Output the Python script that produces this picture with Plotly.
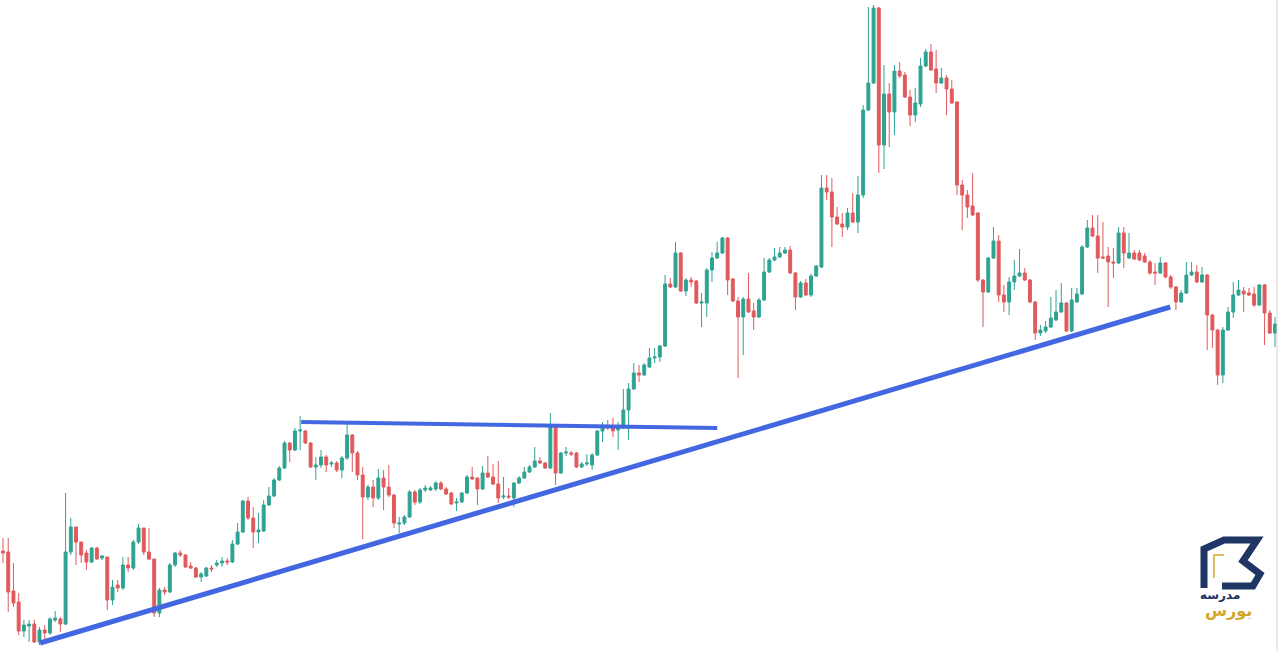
import plotly.graph_objects as go

# candle values (price units, bottom of chart = 0)
open_ = [100, 99, 60, 49, 20, 25, 27, 9, 21, 18, 31, 32, 27, 99, 124, 109, 98, 89, 103, 93,
         94, 51, 66, 63, 86, 83, 109, 123, 99, 92, 38, 61, 59, 86, 98, 96, 85, 83, 74, 75,
         83, 86, 88, 90, 89, 107, 119, 150, 133, 119, 120, 146, 155, 171, 183, 208, 201, 220, 220, 208,
         184, 186, 194, 187, 188, 181, 193, 216, 198, 176, 154, 164, 153, 173, 164, 156, 127, 128, 134, 159,
         149, 161, 161, 162, 168, 162, 158, 148, 149, 158, 174, 173, 162, 178, 174, 167, 154, 155, 153, 168,
         173, 179, 184, 190, 188, 183, 225, 178, 198, 198, 198, 184, 187, 186, 196, 220, 225, 224, 221, 223,
         241, 262, 278, 276, 284, 293, 294, 305, 367, 364, 398, 360, 371, 370, 348, 348, 381, 393, 398, 413,
         372, 350, 334, 352, 340, 334, 351, 379, 391, 394, 398, 401, 378, 354, 368, 356, 375, 384, 463, 459,
         434, 427, 424, 438, 429, 456, 541, 568, 643, 506, 557, 539, 580, 576, 554, 536, 547, 585, 599, 582,
         568, 573, 562, 549, 466, 456, 445, 438, 371, 359, 393, 410, 356, 349, 369, 375, 378, 371, 349, 318,
         320, 324, 331, 339, 348, 320, 349, 357, 404, 423, 415, 394, 395, 389, 388, 418, 393, 398, 398, 395,
         389, 379, 378, 388, 374, 364, 349, 358, 376, 379, 369, 376, 336, 321, 276, 321, 339, 356, 360, 358,
         357, 346, 366, 338, 318]
high = [113, 113, 88, 58, 31, 31, 31, 24, 26, 34, 40, 34, 158, 133, 124, 109, 101, 104, 104, 96,
        94, 71, 71, 94, 94, 111, 127, 123, 123, 92, 63, 64, 88, 99, 101, 97, 89, 84, 79, 84,
        86, 91, 94, 93, 111, 128, 151, 154, 144, 138, 151, 164, 173, 185, 210, 209, 223, 235, 221, 209,
        194, 201, 196, 190, 190, 195, 228, 217, 200, 184, 166, 171, 182, 181, 186, 157, 134, 136, 161, 161,
        163, 166, 165, 170, 170, 164, 159, 153, 159, 176, 184, 174, 185, 195, 187, 190, 174, 163, 169, 175,
        184, 186, 204, 194, 189, 238, 226, 199, 204, 200, 199, 189, 197, 198, 221, 229, 231, 233, 229, 262,
        268, 288, 286, 288, 303, 303, 306, 376, 373, 409, 399, 373, 374, 371, 358, 383, 399, 409, 414, 414,
        373, 354, 354, 378, 348, 353, 393, 393, 403, 404, 404, 405, 379, 370, 372, 377, 386, 476, 476, 473,
        444, 438, 443, 458, 475, 546, 644, 646, 644, 586, 568, 586, 589, 579, 561, 563, 593, 602, 607, 601,
        583, 576, 571, 550, 471, 461, 478, 439, 372, 394, 424, 416, 366, 374, 391, 402, 383, 372, 350, 326,
        330, 354, 361, 368, 349, 363, 363, 406, 431, 436, 436, 429, 404, 403, 424, 424, 418, 401, 401, 398,
        391, 388, 394, 389, 376, 365, 361, 389, 389, 386, 384, 377, 337, 322, 324, 344, 369, 371, 364, 363,
        364, 367, 367, 341, 334]
low = [88, 39, 44, 16, 14, 9, 8, 6, 11, 16, 29, 19, 26, 96, 86, 88, 81, 88, 91, 91,
       41, 46, 59, 61, 79, 81, 107, 96, 91, 34, 34, 56, 58, 84, 94, 83, 82, 73, 69, 74,
       79, 84, 84, 86, 88, 106, 118, 131, 103, 108, 119, 145, 154, 170, 182, 189, 200, 201, 207, 183,
       171, 183, 179, 184, 179, 173, 191, 179, 171, 112, 151, 144, 151, 141, 154, 123, 118, 126, 133, 146,
       147, 159, 160, 160, 161, 156, 146, 140, 148, 157, 171, 146, 161, 173, 166, 148, 152, 152, 144, 167,
       172, 178, 183, 187, 182, 182, 166, 177, 195, 195, 183, 183, 185, 181, 195, 209, 221, 214, 201, 222,
       211, 261, 269, 275, 283, 288, 289, 304, 363, 363, 359, 355, 364, 347, 324, 334, 369, 392, 397, 356,
       349, 273, 296, 338, 321, 333, 350, 378, 390, 393, 397, 377, 341, 353, 355, 354, 374, 383, 451, 404,
       426, 414, 421, 428, 418, 453, 540, 567, 478, 482, 504, 516, 573, 553, 525, 529, 544, 584, 580, 558,
       567, 536, 547, 456, 421, 433, 435, 369, 324, 358, 392, 349, 339, 336, 361, 374, 370, 348, 311, 315,
       318, 323, 330, 338, 319, 319, 348, 356, 403, 414, 378, 392, 344, 373, 387, 383, 392, 391, 390, 388,
       376, 366, 377, 373, 362, 341, 348, 357, 375, 368, 368, 301, 303, 266, 268, 320, 333, 355, 339, 355,
       344, 345, 306, 317, 304]
close = [98, 59, 48, 20, 26, 27, 9, 21, 18, 32, 33, 27, 99, 124, 109, 96, 89, 103, 92, 95,
         51, 64, 63, 86, 83, 109, 123, 99, 92, 38, 61, 59, 86, 98, 96, 84, 83, 74, 77, 83,
         82, 88, 90, 89, 107, 119, 150, 133, 119, 121, 146, 155, 171, 183, 208, 201, 220, 221, 208, 184,
         186, 194, 186, 188, 181, 193, 216, 198, 176, 154, 164, 153, 173, 164, 156, 128, 128, 134, 159, 149,
         161, 163, 163, 168, 162, 157, 147, 149, 158, 174, 172, 162, 178, 174, 167, 153, 155, 154, 168, 173,
         179, 184, 190, 188, 183, 225, 178, 198, 199, 197, 184, 187, 188, 196, 220, 225, 223, 220, 224, 241,
         262, 278, 276, 286, 293, 294, 305, 367, 364, 398, 360, 371, 369, 348, 349, 381, 393, 398, 413, 371,
         350, 334, 352, 339, 334, 351, 379, 391, 394, 398, 401, 378, 354, 368, 356, 375, 385, 463, 459, 434,
         427, 424, 438, 429, 456, 541, 568, 643, 506, 557, 539, 580, 575, 554, 536, 548, 585, 599, 581, 568,
         573, 562, 548, 466, 456, 444, 436, 371, 359, 393, 410, 356, 349, 369, 375, 378, 371, 349, 318, 321,
         324, 333, 339, 348, 320, 351, 357, 404, 423, 415, 393, 393, 389, 388, 418, 398, 398, 392, 391, 389,
         378, 378, 388, 374, 364, 349, 358, 376, 379, 369, 376, 336, 321, 276, 321, 339, 356, 361, 357, 356,
         346, 366, 338, 318, 327]
candle_idx = list(range(len(open_)))

# trend lines drawn on the chart (candle index, price)
support_x = [7.1, 223.9]
support_y = [8, 344]
resistance_x = [57.2, 137.0]
resistance_y = [229, 223]

fig = go.Figure()

fig.add_trace(go.Candlestick(
    x=candle_idx, open=open_, high=high, low=low, close=close,
    increasing=dict(line=dict(color='#2fa393', width=1), fillcolor='#2fa393'),
    decreasing=dict(line=dict(color='#e05a5d', width=1), fillcolor='#e05a5d'),
    whiskerwidth=0,
    showlegend=False,
    hoverinfo='skip'
))

# blue trend lines
fig.add_trace(go.Scatter(x=support_x, y=support_y, mode='lines',
                         line=dict(color='#4267e0', width=5), showlegend=False, hoverinfo='skip'))
fig.add_trace(go.Scatter(x=resistance_x, y=resistance_y, mode='lines',
                         line=dict(color='#4267e0', width=4), showlegend=False, hoverinfo='skip'))

W, H = 1278, 651


def px(x, y):
    # pixel position -> paper coords, only used for the logo
    return x / W, 1 - y / H


def path(points):
    return 'M ' + ' L '.join('%.4f,%.4f' % px(x, y) for x, y in points)


navy = '#1f3563'
gold = '#d2a52b'

# logo icon
fig.add_shape(type='path', xref='paper', yref='paper', line=dict(color=navy, width=7),
              path=path([(1204, 588), (1204, 549), (1224, 540), (1257, 540), (1243, 561),
                         (1260, 574), (1253, 586), (1222, 586)]))
fig.add_shape(type='path', xref='paper', yref='paper', line=dict(color=gold, width=1.5),
              path=path([(1224, 555), (1214, 555), (1214, 578)]))

# rtl text gets centred a bit to the left, so anchor points sit further right
fig.add_annotation(text='<b>مدرسه</b>', xref='paper', yref='paper', x=px(1242, 0)[0], y=px(0, 604)[1],
                   showarrow=False, font=dict(family='DejaVu Sans', size=12, color=navy))
fig.add_annotation(text='<b>بورس</b>', xref='paper', yref='paper', x=px(1254, 0)[0], y=px(0, 622)[1],
                   showarrow=False, font=dict(family='DejaVu Sans', size=16, color=gold))

# thin frame line on the right edge
fig.add_shape(type='line', xref='paper', yref='paper', x0=0.9992, x1=0.9992, y0=0, y1=1,
              line=dict(color='#d6d6d6', width=1))

fig.update_layout(
    width=W, height=H,
    margin=dict(l=0, r=0, t=0, b=0),
    plot_bgcolor='white',
    paper_bgcolor='white',
    boxgap=0.2,
    xaxis=dict(visible=False, range=[-0.58, 244.58], rangeslider=dict(visible=False)),
    yaxis=dict(visible=False, range=[0, 651]),
)

# drop the default page margin so the chart fills the window
fig.write_html("out.html", config={'displayModeBar': False},
               post_script="document.body.style.margin='0';")
